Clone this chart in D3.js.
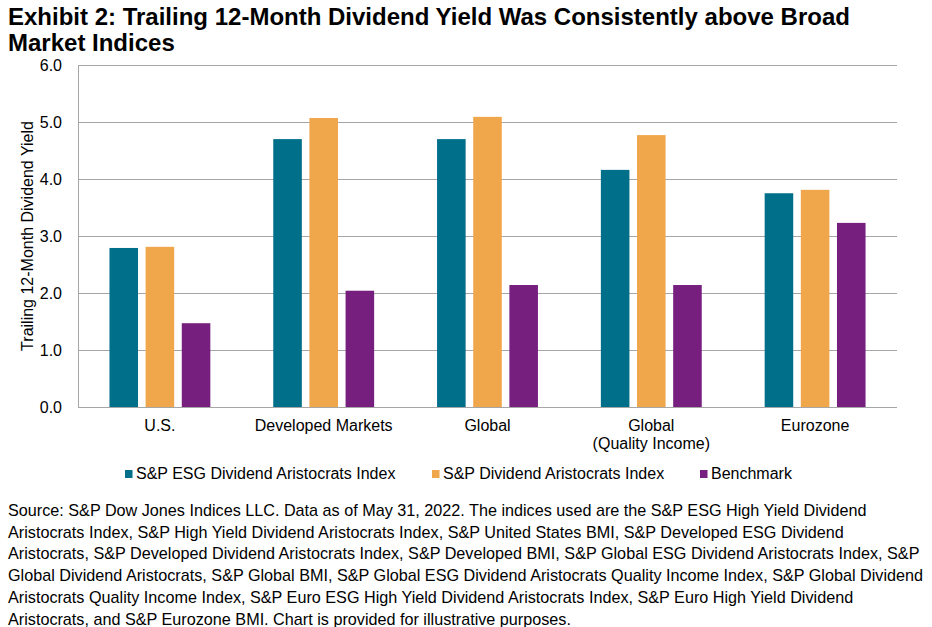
<!DOCTYPE html>
<html>
<head>
<meta charset="utf-8">
<script src="https://cdn.jsdelivr.net/npm/d3@7"></script>
<style>
  body { margin: 0; background: #fff; }
  svg { display: block; font-family: "Liberation Sans", Arial, sans-serif; }
</style>
</head>
<body>
<div id="chart"></div>
<script>
// Chart data
const categories = ['U.S.', 'Developed Markets', 'Global', 'Global\n(Quality Income)', 'Eurozone'];
const seriesNames = ['S&P ESG Dividend Aristocrats Index', 'S&P Dividend Aristocrats Index', 'Benchmark'];
const esgValues = [2.79, 4.70, 4.70, 4.16, 3.75];
const aristocratsValues = [2.81, 5.07, 5.09, 4.77, 3.81];
const benchmarkValues = [1.47, 2.04, 2.14, 2.14, 3.23];
const yTicks = [0, 1, 2, 3, 4, 5, 6];

const titleLines = [
    'Exhibit 2: Trailing 12-Month Dividend Yield Was Consistently above Broad',
    'Market Indices'
];
const footerLines = [
    'Source: S&P Dow Jones Indices LLC. Data as of May 31, 2022. The indices used are the S&P ESG High Yield Dividend',
    'Aristocrats Index, S&P High Yield Dividend Aristocrats Index, S&P United States BMI, S&P Developed ESG Dividend',
    'Aristocrats, S&P Developed Dividend Aristocrats Index, S&P Developed BMI, S&P Global ESG Dividend Aristocrats Index, S&P',
    'Global Dividend Aristocrats, S&P Global BMI, S&P Global ESG Dividend Aristocrats Quality Income Index, S&P Global Dividend',
    'Aristocrats Quality Income Index, S&P Euro ESG High Yield Dividend Aristocrats Index, S&P Euro High Yield Dividend',
    'Aristocrats, and S&P Eurozone BMI. Chart is provided for illustrative purposes.'
];

const colors = ['#006F8A', '#F0A64A', '#761F7F'];
const gridColor = '#A6A6A6';

const W = 932, H = 627;
const margin = { top: 65, left: 78, right: 35, bottom: 220 };
const width = W - margin.left - margin.right;
const height = H - margin.top - margin.bottom;

const svg = d3.select('#chart').append('svg')
    .attr('width', W)
    .attr('height', H);

// Title
svg.append('g').selectAll('text')
    .data(titleLines)
    .enter().append('text')
    .attr('x', 8)
    .attr('y', (d, i) => 25 + i * 26)
    .style('font-size', '24px')
    .style('font-weight', 'bold')
    .style('fill', '#000')
    .text(d => d);

const g = svg.append('g')
    .attr('transform', `translate(${margin.left},${margin.top})`);

const data = categories.map((c, i) => ({
    category: c,
    values: [esgValues[i], aristocratsValues[i], benchmarkValues[i]]
}));

// Scales
const x0 = d3.scaleBand()
    .domain(categories)
    .range([0, width])
    .padding(0);

const x1 = d3.scaleBand()
    .domain(d3.range(seriesNames.length))
    .range([0, x0.bandwidth()])
    .paddingInner(0.21)
    .paddingOuter(0.87);

const y = d3.scaleLinear()
    .domain([0, 6])
    .range([height, 0]);

// Gridlines
g.append('g')
    .selectAll('line')
    .data(yTicks)
    .enter().append('line')
    .attr('x1', 0)
    .attr('x2', width)
    .attr('y1', d => y(d) + 0.5)
    .attr('y2', d => y(d) + 0.5)
    .style('stroke', gridColor)
    .style('stroke-width', 1);

// Left axis line
g.append('line')
    .attr('x1', 0.5).attr('x2', 0.5)
    .attr('y1', 0).attr('y2', height)
    .style('stroke', gridColor);

// Y axis labels
const yAxis = d3.axisLeft(y)
    .tickValues(yTicks)
    .tickSize(0)
    .tickPadding(16)
    .tickFormat(d3.format('.1f'));

g.append('g')
    .attr('class', 'y-axis')
    .call(yAxis)
    .call(a => a.select('.domain').remove())
    .selectAll('text')
    .style('font-size', '16px')
    .style('font-family', '"Liberation Sans", Arial, sans-serif')
    .style('fill', '#000');

// Y axis title
g.append('text')
    .attr('transform', 'rotate(-90)')
    .attr('x', -height / 2)
    .attr('y', -margin.left + 33)
    .style('text-anchor', 'middle')
    .style('font-size', '16px')
    .style('fill', '#000')
    .text('Trailing 12-Month Dividend Yield');

// Bars
const groups = g.selectAll('.group')
    .data(data)
    .enter().append('g')
    .attr('class', 'group')
    .attr('transform', d => `translate(${x0(d.category)},0)`);

groups.selectAll('rect')
    .data(d => d.values)
    .enter().append('rect')
    .attr('x', (d, i) => x1(i))
    .attr('width', x1.bandwidth())
    .attr('y', d => y(d))
    .attr('height', d => height - y(d))
    .style('fill', (d, i) => colors[i]);

// X axis labels
const xLabels = g.append('g')
    .selectAll('text')
    .data(categories)
    .enter().append('text')
    .attr('x', d => x0(d) + x0.bandwidth() / 2)
    .attr('y', height + 24)
    .style('text-anchor', 'middle')
    .style('font-size', '16px')
    .style('fill', '#000');

xLabels.selectAll('tspan')
    .data(d => d.split('\n'))
    .enter().append('tspan')
    .attr('x', function () { return d3.select(this.parentNode).attr('x'); })
    .attr('dy', (d, i) => i === 0 ? 0 : 17.5)
    .text(d => d);

// Legend
const legendX = [125, 432, 700];
const legend = svg.append('g')
    .selectAll('g')
    .data(seriesNames)
    .enter().append('g')
    .attr('transform', (d, i) => `translate(${legendX[i]},479)`);

legend.append('rect')
    .attr('x', 0)
    .attr('y', -9)
    .attr('width', 7.5)
    .attr('height', 8)
    .style('fill', (d, i) => colors[i]);

legend.append('text')
    .attr('x', 11)
    .attr('y', 0)
    .style('font-size', '16px')
    .style('fill', '#000')
    .text(d => d);

// Footer
svg.append('g').selectAll('text')
    .data(footerLines)
    .enter().append('text')
    .attr('x', 8)
    .attr('y', (d, i) => 516 + i * 21.7)
    .style('font-size', '16.2px')
    .style('fill', '#000')
    .text(d => d);
</script>
</body>
</html>
